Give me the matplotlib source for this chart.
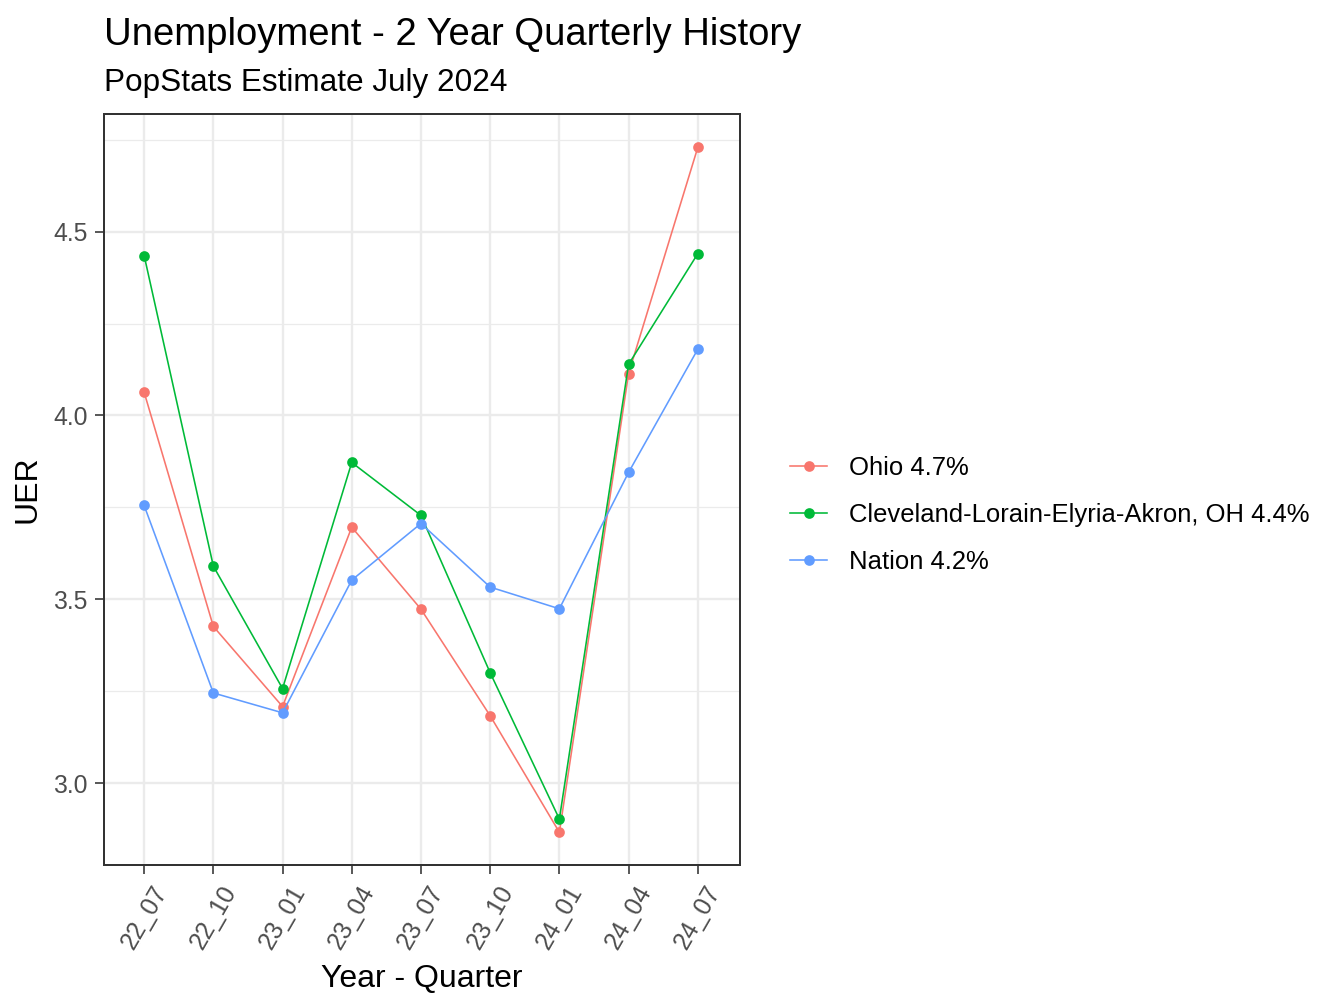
import matplotlib
matplotlib.use("Agg")
import matplotlib.pyplot as plt
from matplotlib.lines import Line2D
import numpy as np

plt.rcParams['font.family'] = ['Liberation Sans', 'DejaVu Sans']

quarters = ["22_07", "22_10", "23_01", "23_04", "23_07", "23_10", "24_01", "24_04", "24_07"]
ohio = [4.063, 3.426, 3.208, 3.696, 3.473, 3.183, 2.866, 4.114, 4.729]
cleveland = [4.435, 3.590, 3.257, 3.872, 3.728, 3.300, 2.902, 4.139, 4.440]
nation = [3.755, 3.245, 3.191, 3.552, 3.706, 3.533, 3.474, 3.845, 4.180]
series_names = ["Ohio 4.7%", "Cleveland-Lorain-Elyria-Akron, OH 4.4%", "Nation 4.2%"]
colors = ["#F8766D", "#00BA38", "#619CFF"]
yticks = [3.0, 3.5, 4.0, 4.5]
yminor = [3.25, 3.75, 4.25, 4.75]

W, H = 1344, 1008
fig = plt.figure(figsize=(7, 5.25), dpi=192)
ax = fig.add_axes([104 / W, 1 - 865 / H, (740 - 104) / W, (865 - 114) / H])

x = np.arange(len(quarters))
for vals, c in zip([ohio, cleveland, nation], colors):
    ax.plot(x, vals, color=c, lw=0.6, marker='o', ms=3.0, zorder=3)

ax.set_xlim(-0.58, len(quarters) - 1 + 0.61)
ax.set_ylim(2.777, 4.82)
ax.set_xticks(x)
ax.set_xticklabels(quarters, rotation=60, ha='center', va='top', rotation_mode='default')
ax.set_yticks(yticks)
ax.set_yticklabels([f"{v:.1f}" for v in yticks])
ax.set_yticks(yminor, minor=True)
ax.tick_params(axis='both', which='major', labelsize=9.3, colors='#333333', labelcolor='#4D4D4D',
               length=3.2, width=0.6, pad=3)
ax.tick_params(axis='y', which='minor', length=0)
ax.grid(True, which='major', color='#EBEBEB', lw=0.9, zorder=0)
ax.grid(True, which='minor', axis='y', color='#EBEBEB', lw=0.45, zorder=0)
ax.set_axisbelow(True)
for s in ax.spines.values():
    s.set_color('#333333')
    s.set_linewidth(0.75)

ax.set_xlabel("Year - Quarter", fontsize=12, color='black', labelpad=4)
ax.set_ylabel("UER", fontsize=12, color='black', labelpad=4)

fig.text(104 / W, 1 - 45 / H, "Unemployment - 2 Year Quarterly History", fontsize=14.35, ha='left', va='baseline')
fig.text(104 / W, 1 - 91 / H, "PopStats Estimate July 2024", fontsize=11.8, ha='left', va='baseline')

handles = [Line2D([0], [0], color=c, lw=0.6, marker='o', ms=3.0) for c in colors]
leg = fig.legend(handles, series_names, loc='center left', bbox_to_anchor=(790 / W, 1 - 515 / H),
                 frameon=False, fontsize=9.6, handlelength=1.45, handletextpad=0.85, labelspacing=0.9,
                 borderaxespad=0, borderpad=0)

fig.savefig("out.png", dpi=192)
